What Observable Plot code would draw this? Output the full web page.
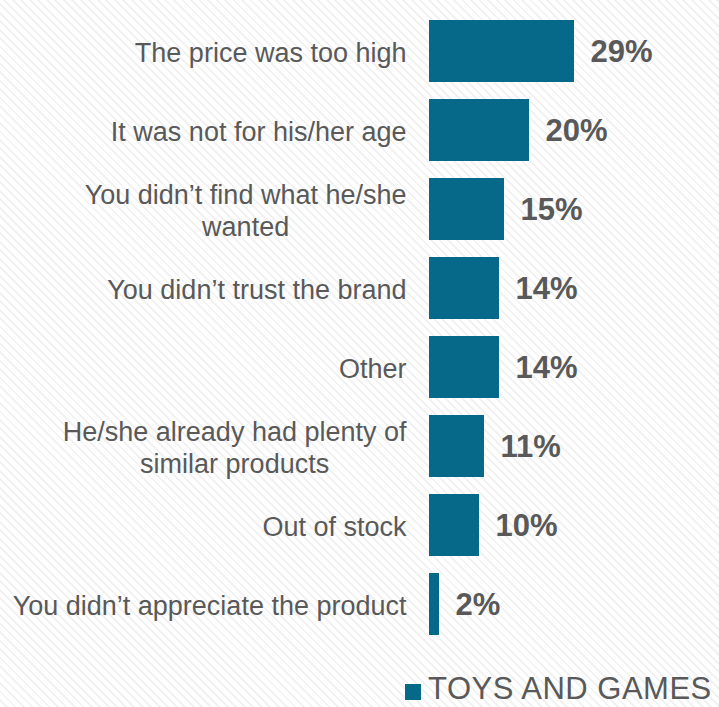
<!DOCTYPE html>
<html>
<head>
<meta charset="utf-8">
<script src="https://cdn.jsdelivr.net/npm/d3@7"></script>
<script src="https://cdn.jsdelivr.net/npm/@observablehq/plot@0.6"></script>
<style>
  html, body { margin: 0; padding: 0; }
  body {
    position: relative;
    width: 719px; height: 707px; overflow: hidden;
    font-family: "Liberation Sans", Arial, sans-serif;
    background: repeating-linear-gradient(45deg, #ffffff 0 4px, #f2f2f2 4px 6px);
  }
  #chart svg { display: block; background: transparent; }
  .legend {
    position: absolute; left: 405px; top: 672px; height: 33px;
    display: flex; align-items: center;
    color: #595959; font-size: 31px; line-height: 33px; letter-spacing: 0.5px;
  }
  .legend .swatch { width: 16px; height: 16px; background: #07698a; margin-right: 7px; margin-top: 7px; }
</style>
</head>
<body>
<div id="chart"></div>
<div class="legend"><span class="swatch"></span><span id="series-name"></span></div>
<script>
// Reasons for not buying, share of respondents
const categories = [
  "The price was too high",
  "It was not for his/her age",
  "You didn\u2019t find what he/she\nwanted",
  "You didn\u2019t trust the brand",
  "Other",
  "He/she already had plenty of\nsimilar products",
  "Out of stock",
  "You didn\u2019t appreciate the product"
];
const values = [29, 20, 15, 14, 14, 11, 10, 2];
const seriesName = "TOYS AND GAMES";

const data = categories.map((category, i) => ({category, value: values[i]}));

const barColor = "#07698a";
const textColor = "#595959";
const labelSize = 27;
const labelGap = 23;

// Width of the longest line of a label, used to center multi-line labels
const ctx = document.createElement("canvas").getContext("2d");
ctx.font = `${labelSize}px "Liberation Sans", Arial, sans-serif`;
const lineWidth = (s) => Math.max(...s.split("\n").map((l) => ctx.measureText(l).width));

const categoryLabels = data.map((d) => {
  const multi = d.category.includes("\n");
  return Plot.text([d], {
    y: "category",
    text: "category",
    frameAnchor: "left",
    textAnchor: multi ? "middle" : "end",
    dx: multi ? -(labelGap + lineWidth(d.category) / 2) : -labelGap,
    lineHeight: 1.18,
    fontSize: labelSize,
    fill: textColor
  });
});

const chart = Plot.plot({
  width: 719,
  height: 660,
  marginLeft: 429,
  marginRight: 0,
  marginTop: 17,
  marginBottom: 22,
  style: {fontFamily: "'Liberation Sans', Arial, sans-serif", background: "transparent"},
  x: {domain: [0, 58], axis: null},
  y: {domain: categories, paddingInner: 0.22, paddingOuter: 0, axis: null},
  marks: [
    Plot.barX(data, {
      x: "value",
      y: "category",
      fill: barColor,
      style: "filter: drop-shadow(2px 2px 3px rgba(0,0,0,0.22))"
    }),
    Plot.text(data, {
      x: "value",
      y: "category",
      text: (d) => `${d.value}%`,
      textAnchor: "start",
      dx: 16,
      dy: 1,
      fontSize: 31,
      fontWeight: "bold",
      fill: textColor
    }),
    ...categoryLabels
  ]
});

document.getElementById("chart").append(chart);
document.getElementById("series-name").textContent = seriesName;
</script>
</body>
</html>
